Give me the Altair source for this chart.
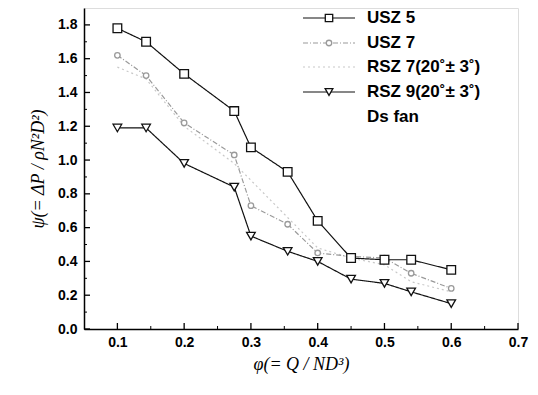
import altair as alt
import pandas as pd

# ---- data ----
x_usz5 = [0.10, 0.143, 0.20, 0.275, 0.30, 0.355, 0.40, 0.45, 0.50, 0.54, 0.60]
y_usz5 = [1.78, 1.70, 1.51, 1.29, 1.075, 0.93, 0.64, 0.42, 0.41, 0.41, 0.35]

x_usz7 = [0.10, 0.143, 0.20, 0.275, 0.30, 0.355, 0.40, 0.45, 0.50, 0.54, 0.60]
y_usz7 = [1.62, 1.50, 1.22, 1.03, 0.73, 0.62, 0.45, 0.43, 0.42, 0.33, 0.24]

x_rsz7 = [0.10, 0.143, 0.20, 0.275, 0.30, 0.355, 0.40, 0.45, 0.50, 0.54, 0.60]
y_rsz7 = [1.55, 1.48, 1.20, 0.98, 0.88, 0.66, 0.48, 0.42, 0.38, 0.28, 0.22]

x_rsz9 = [0.10, 0.143, 0.20, 0.275, 0.30, 0.355, 0.40, 0.45, 0.50, 0.54, 0.60]
y_rsz9 = [1.19, 1.19, 0.98, 0.84, 0.55, 0.46, 0.40, 0.295, 0.27, 0.22, 0.15]

legend_names = ["USZ 5", "USZ 7", "RSZ 7(20\u02da\u00b1 3\u02da)", "RSZ 9(20\u02da\u00b1 3\u02da)", "Ds fan"]

x_major = [0.1, 0.2, 0.3, 0.4, 0.5, 0.6, 0.7]
x_minor = [0.15, 0.25, 0.35, 0.45, 0.55, 0.65]
y_major = [0.0, 0.2, 0.4, 0.6, 0.8, 1.0, 1.2, 1.4, 1.6, 1.8]
y_minor = [0.1, 0.3, 0.5, 0.7, 0.9, 1.1, 1.3, 1.5, 1.7]

W, H = 434, 321
XD = [0.05, 0.7]
YD = [0.0, 1.9]

xs = alt.Scale(domain=XD, nice=False, zero=False)
ys = alt.Scale(domain=YD, nice=False, zero=False)

xaxis = alt.Axis(values=x_major, format=".1f", ticks=False, grid=False,
                 labelOverlap=False, labelFlush=False,
                 labelFont="Liberation Sans", labelFontWeight="bold", labelFontSize=14,
                 labelColor="black", labelPadding=6, domainColor="black", domainWidth=1.5,
                 title="\u03c6(= Q / ND\u00b3)", titleFont="Liberation Serif",
                 titleFontStyle="italic", titleFontWeight="normal", titleFontSize=18,
                 titleColor="black", titlePadding=6)
yaxis = alt.Axis(values=y_major, format=".1f", ticks=False, grid=False,
                 labelOverlap=False, labelFlush=False,
                 labelFont="Liberation Sans", labelFontWeight="bold", labelFontSize=14,
                 labelColor="black", labelPadding=7, domainColor="black", domainWidth=1.5,
                 title="\u03c8(= \u0394P / \u03c1N\u00b2D\u00b2)", titleFont="Liberation Serif",
                 titleFontStyle="italic", titleFontWeight="normal", titleFontSize=18,
                 titleColor="black", titlePadding=10)


def series(xv, yv, color, dash, shape, size, width=1.2):
    df = pd.DataFrame({"x": xv, "y": yv})
    base = alt.Chart(df)
    line = base.mark_line(color=color, strokeDash=dash, strokeWidth=width).encode(
        x=alt.X("x:Q", scale=xs, axis=xaxis), y=alt.Y("y:Q", scale=ys, axis=yaxis))
    layers = [line]
    if shape:
        pts = base.mark_point(shape=shape, size=size, color=color, filled=False,
                              strokeWidth=1.3, fill="white", fillOpacity=1).encode(
            x=alt.X("x:Q", scale=xs, axis=xaxis), y=alt.Y("y:Q", scale=ys, axis=yaxis))
        layers.append(pts)
    return layers


layers = []
layers += series(x_rsz7, y_rsz7, "#c8c8c8", [2, 3], None, 0)
layers += series(x_usz7, y_usz7, "#9a9a9a", [5, 2, 1, 2], "circle", 30)
layers += series(x_rsz9, y_rsz9, "#111111", [1, 0], "triangle-down", 75)
layers += series(x_usz5, y_usz5, "#111111", [1, 0], "square", 75)

# inward ticks
tx_major = alt.Chart(pd.DataFrame({"v": x_major})).mark_rule(color="black", strokeWidth=1.3).encode(
    x=alt.X("v:Q", scale=xs, axis=xaxis), y=alt.value(H), y2=alt.value(H - 6))
tx_minor = alt.Chart(pd.DataFrame({"v": x_minor})).mark_rule(color="black", strokeWidth=1).encode(
    x=alt.X("v:Q", scale=xs, axis=xaxis), y=alt.value(H), y2=alt.value(H - 3))
ty_major = alt.Chart(pd.DataFrame({"v": y_major})).mark_rule(color="black", strokeWidth=1.3).encode(
    y=alt.Y("v:Q", scale=ys, axis=yaxis), x=alt.value(0), x2=alt.value(6))
ty_minor = alt.Chart(pd.DataFrame({"v": y_minor})).mark_rule(color="black", strokeWidth=1).encode(
    y=alt.Y("v:Q", scale=ys, axis=yaxis), x=alt.value(0), x2=alt.value(3))
layers += [tx_major, tx_minor, ty_major, ty_minor]

# manual legend
one = alt.Data(values=[{"a": 1}])
leg_y = [10, 35, 59, 84, 109]
LX0, LX1, LT = 219, 271, 283
leg_style = [
    ("#111111", [1, 0], "square", 55),
    ("#9a9a9a", [5, 2, 1, 2], "circle", 30),
    ("#c8c8c8", [2, 3], None, 0),
    ("#111111", [1, 0], "triangle-down", 60),
    (None, None, None, 0),
]
for name, yy, (col, dash, shape, sz) in zip(legend_names, leg_y, leg_style):
    if col:
        layers.append(alt.Chart(one).mark_rule(color=col, strokeDash=dash, strokeWidth=1.2).encode(
            x=alt.value(LX0), x2=alt.value(LX1), y=alt.value(yy)))
    if shape:
        layers.append(alt.Chart(one).mark_point(shape=shape, size=sz, color=col, strokeWidth=1.3,
                                                fill="white", fillOpacity=1).encode(
            x=alt.value((LX0 + LX1) / 2), y=alt.value(yy)))
    layers.append(alt.Chart(one).mark_text(text=name, align="left", baseline="middle",
                                           font="Liberation Sans", fontWeight="bold",
                                           fontSize=17, color="black").encode(
        x=alt.value(LT), y=alt.value(yy)))

chart = alt.layer(*layers).properties(
    width=W, height=H,
    autosize=alt.AutoSizeParams(type="none"),
    padding={"left": 76, "top": 0, "right": 12, "bottom": 58},
).configure_view(stroke=None).configure_axis(
    labelOverlap=False, labelFlush=False
).configure(background="white")

chart.save("out.html", embed_options={"renderer": "svg", "actions": False})
